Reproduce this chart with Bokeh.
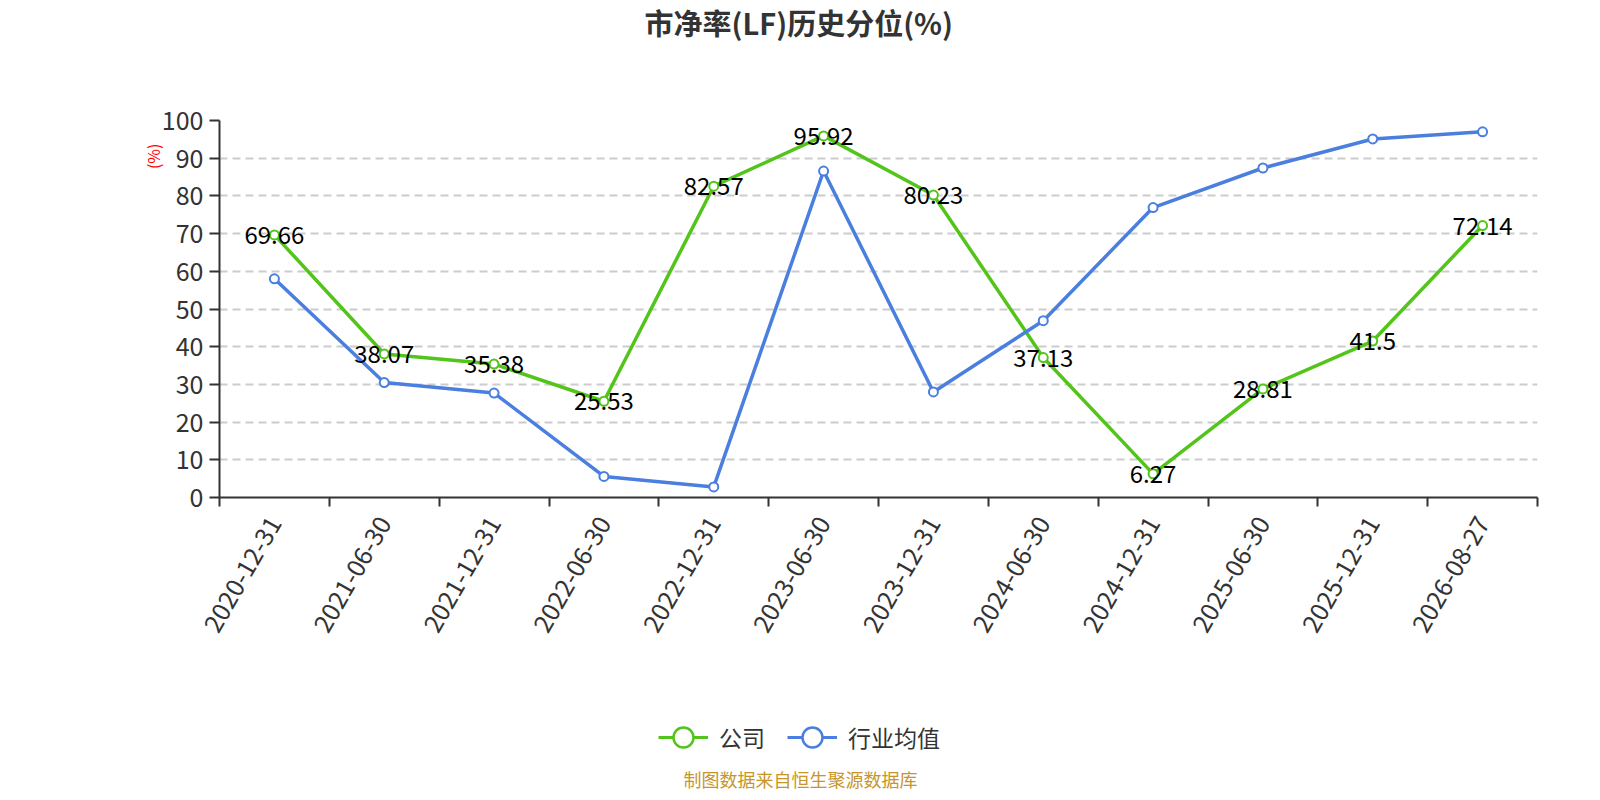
import math
from bokeh.plotting import figure
from bokeh.layouts import column
from bokeh.models import Range1d, FixedTicker, Legend, LegendItem, ColumnDataSource, Title, Label
from bokeh.core.properties import value
from bokeh.embed import file_html
from bokeh.resources import INLINE

# ---- data ----
dates = ["2020-12-31", "2021-06-30", "2021-12-31", "2022-06-30", "2022-12-31", "2023-06-30",
         "2023-12-31", "2024-06-30", "2024-12-31", "2025-06-30", "2025-12-31", "2026-08-27"]
company = [69.66, 38.07, 35.38, 25.53, 82.57, 95.92, 80.23, 37.13, 6.27, 28.81, 41.5, 72.14]
industry = [58.0, 30.5, 27.7, 5.6, 2.8, 86.6, 28.0, 46.9, 76.9, 87.4, 95.1, 97.0]
y_ticks = [0, 10, 20, 30, 40, 50, 60, 70, 80, 90, 100]
series_names = ["公司", "行业均值"]
title_text = "市净率(LF)历史分位(%)"
y_name = "(%)"
footer_text = "制图数据来自恒生聚源数据库"

FONT = "Noto Sans CJK SC"
GREEN = "#52c41a"
BLUE = "#4a7fe0"
AXIS = "#333333"
W = 1584
H1 = 690
H2 = 100
LEFT, RIGHT = 219, 47

idx = list(range(len(dates)))
src = ColumnDataSource(dict(x=idx, company=company, industry=industry,
                            label=[f"{v:g}" for v in company]))

# ================= main chart =================
p = figure(width=W, height=H1, output_backend="svg", toolbar_location=None, title=None,
           x_range=Range1d(-0.5, len(dates) - 0.5), y_range=Range1d(0, 100),
           min_border_left=LEFT, min_border_right=RIGHT, min_border_top=120,
           min_border_bottom=H1 - 497)
p.outline_line_color = None

p.xgrid.visible = False
p.ygrid.grid_line_color = "#cccccc"
p.ygrid.grid_line_dash = "8 5"
p.ygrid.grid_line_width = 2

p.yaxis.ticker = FixedTicker(ticks=y_ticks)
p.yaxis.axis_line_color = AXIS
p.yaxis.axis_line_width = 2
p.yaxis.major_tick_line_color = AXIS
p.yaxis.major_tick_line_width = 2
p.yaxis.major_tick_out = 10
p.yaxis.major_tick_in = 0
p.yaxis.minor_tick_line_color = None
p.yaxis.major_label_standoff = 6
p.yaxis.major_label_text_font = FONT
p.yaxis.major_label_text_font_size = "25px"
p.yaxis.major_label_text_color = AXIS

p.xaxis.ticker = FixedTicker(ticks=idx, minor_ticks=[i - 0.5 for i in range(len(dates) + 1)])
p.xaxis.major_label_overrides = {i: d for i, d in enumerate(dates)}
p.xaxis.axis_line_color = AXIS
p.xaxis.axis_line_width = 2
p.xaxis.major_tick_line_color = None
p.xaxis.major_tick_out = 0
p.xaxis.major_tick_in = 0
p.xaxis.minor_tick_line_color = AXIS
p.xaxis.minor_tick_line_width = 2
p.xaxis.minor_tick_out = 9
p.xaxis.minor_tick_in = 0
p.xaxis.major_label_orientation = math.pi / 3
p.xaxis.major_label_standoff = 12
p.xaxis.major_label_text_font = FONT
p.xaxis.major_label_text_font_size = "25px"
p.xaxis.major_label_text_color = AXIS

p.line("x", "company", source=src, line_color=GREEN, line_width=3.5, line_join="round")
p.scatter("x", "company", source=src, marker="circle", size=9,
          fill_color="white", line_color=GREEN, line_width=2)
p.line("x", "industry", source=src, line_color=BLUE, line_width=3.5, line_join="round")
p.scatter("x", "industry", source=src, marker="circle", size=9,
          fill_color="white", line_color=BLUE, line_width=2)
p.text("x", "company", text="label", source=src, text_align="center", text_baseline="middle",
       text_font=value(FONT), text_font_size="24px", text_color="#000000")

# top: spacer next to frame, then main title
p.add_layout(Title(text=" ", text_font_size="1px", standoff=75), "above")
p.add_layout(Title(text=title_text, align="left", offset=425, vertical_align="middle",
                   standoff=-2, text_font=FONT, text_font_size="29px",
                   text_font_style="bold", text_color=AXIS), "above")

# y-axis name
p.add_layout(Title(text=y_name, align="right", offset=23, vertical_align="middle",
                   standoff=-14, text_font=FONT, text_font_size="16px",
                   text_font_style="normal", text_color="#ff0000"), "left")

# ================= legend + source strip =================
q = figure(width=W, height=H2, output_backend="svg", toolbar_location=None, title=None,
           x_range=Range1d(LEFT, W - RIGHT), y_range=Range1d(0, H2),
           x_axis_type=None, y_axis_type=None,
           min_border_left=LEFT, min_border_right=RIGHT, min_border_top=0, min_border_bottom=0)
q.outline_line_color = None
q.xgrid.visible = False
q.ygrid.visible = False

# legend glyph renderers (same series data; they fall outside this strip's range)
lg_g_line = q.line("x", "company", source=src, line_color=GREEN, line_width=3)
lg_g_pts = q.scatter("x", "company", source=src, marker="circle", fill_color="white",
                     line_color=GREEN, line_width=2.5)
lg_b_line = q.line("x", "industry", source=src, line_color=BLUE, line_width=3)
lg_b_pts = q.scatter("x", "industry", source=src, marker="circle", fill_color="white",
                     line_color=BLUE, line_width=2.5)

legend = Legend(items=[LegendItem(label=series_names[0], renderers=[lg_g_line, lg_g_pts]),
                       LegendItem(label=series_names[1], renderers=[lg_b_line, lg_b_pts])],
                orientation="horizontal", location=(439, 28),
                glyph_width=50, glyph_height=50, label_standoff=11, spacing=22,
                padding=0, margin=0, border_line_color=None, background_fill_alpha=0,
                label_text_font=FONT, label_text_font_size="23px", label_text_color=AXIS)
q.add_layout(legend, "center")

q.add_layout(Label(x=800, y=12, text=footer_text, text_align="center", text_baseline="middle",
                   text_font=FONT, text_font_size="18px", text_color="#c8952a"))

open("out.html", "w").write(file_html(column(p, q, spacing=0), INLINE))
